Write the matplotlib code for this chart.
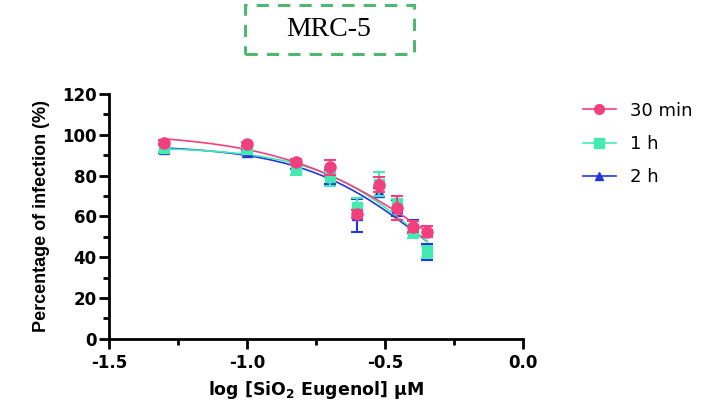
import numpy as np
import matplotlib
matplotlib.use("Agg")
import matplotlib.pyplot as plt
from matplotlib.patches import Rectangle
from matplotlib.ticker import MultipleLocator
from matplotlib.lines import Line2D

plt.rcParams['font.family'] = ['DejaVu Sans']
plt.rcParams['mathtext.fontset'] = 'custom'
plt.rcParams['mathtext.bf'] = 'DejaVu Sans:bold'
plt.rcParams['mathtext.rm'] = 'DejaVu Sans'

# log10 of concentrations (µM)
log_conc = [-1.301, -1.0, -0.824, -0.699, -0.602, -0.523, -0.456, -0.398, -0.347]

series_names = ["30 min", "1 h", "2 h"]
inf_30min = [96.2, 95.5, 86.6, 84.0, 61.0, 75.5, 64.2, 55.0, 52.5]
sd_30min = [1.2, 1.2, 1.5, 3.6, 2.0, 3.6, 6.0, 2.5, 2.8]
inf_1h = [93.4, 93.0, 83.4, 79.5, 64.4, 75.8, 65.6, 52.5, 42.7]
sd_1h = [2.0, 1.5, 3.0, 4.5, 4.6, 6.0, 3.0, 3.0, 3.0]
inf_2h = [93.0, 91.5, 85.0, 79.5, 60.5, 72.0, 64.0, 55.0, 42.5]
sd_2h = [2.0, 1.0, 1.5, 3.5, 8.2, 1.8, 4.0, 3.0, 3.8]

colors = ["#F2407F", "#43EBB2", "#2236DC"]
markers = ["o", "s", "^"]
msizes = [8.0, 7.5, 7.0]


def response(x, top, logic50, hill):
    return top / (1.0 + 10.0 ** ((x - logic50) * hill))


def fit_curve(x, y):
    # grid-search least squares for a top / IC50 / Hill slope model (bottom = 0)
    x = np.asarray(x)[:, None, None, None]
    y = np.asarray(y)[:, None, None, None]
    tops = np.arange(94, 112, 0.5)[None, :, None, None]
    cs = np.arange(-0.7, 0.1, 0.005)[None, None, :, None]
    hs = np.arange(0.3, 3.0, 0.02)[None, None, None, :]
    pred = response(x, tops, cs, hs)
    sse = ((pred - y) ** 2).sum(axis=0)
    i, j, k = np.unravel_index(np.argmin(sse), sse.shape)
    return tops[0, i, 0, 0], cs[0, 0, j, 0], hs[0, 0, 0, k]


fig = plt.figure(figsize=(7.23, 4.11), dpi=100)
ax = fig.add_axes([0.151, 0.176, 0.572, 0.595])

all_y = [inf_30min, inf_1h, inf_2h]
all_sd = [sd_30min, sd_1h, sd_2h]
xs = np.linspace(min(log_conc), max(log_conc), 200)

for idx in [2, 1, 0]:
    y = all_y[idx]
    top, c, h = fit_curve(log_conc, y)
    ax.plot(xs, response(xs, top, c, h), color=colors[idx], lw=1.2, zorder=2 + (2 - idx))
    ax.errorbar(log_conc, y, yerr=all_sd[idx], fmt=markers[idx], color=colors[idx],
                ms=msizes[idx], mec=colors[idx], capsize=4.5, elinewidth=1.5,
                capthick=1.5, zorder=3 + (2 - idx))

ax.set_xlim(-1.5, 0.0)
ax.set_ylim(0, 120)
ax.xaxis.set_major_locator(MultipleLocator(0.5))
ax.xaxis.set_minor_locator(MultipleLocator(0.25))
ax.yaxis.set_major_locator(MultipleLocator(20))
ax.yaxis.set_minor_locator(MultipleLocator(10))
ax.set_xticks([-1.5, -1.0, -0.5, 0.0])
ax.set_xticklabels(["-1.5", "-1.0", "-0.5", "0.0"])

for s in ["top", "right"]:
    ax.spines[s].set_visible(False)
for s in ["left", "bottom"]:
    ax.spines[s].set_linewidth(2.0)
ax.tick_params(which="major", direction="out", length=7, width=2.0,
               labelsize=12, pad=2)
ax.tick_params(axis="x", which="major", pad=4)
ax.tick_params(which="minor", direction="out", length=4, width=2.0)
for lbl in ax.get_xticklabels() + ax.get_yticklabels():
    lbl.set_fontweight("bold")

ax.set_ylabel("Percentage of infection (%)", fontsize=13, fontweight="bold",
              family="Liberation Sans", labelpad=9)
ax.set_xlabel(r"log [SiO$_\mathbf{2}$ Eugenol] µM", fontsize=12.5, fontweight="bold",
              labelpad=5)

handles = [Line2D([0], [0], color=colors[i], marker=markers[i], ms=msizes[i] - 1.0, lw=1.2)
           for i in range(3)]
fig.legend(handles, series_names, loc="upper left", bbox_to_anchor=(0.784, 0.792),
           frameon=False, fontsize=13, handlelength=1.8, labelspacing=0.85,
           handletextpad=0.8)

# dashed title box
box = Rectangle((245 / 723, 1 - 54 / 411), (414 - 245) / 723, 49 / 411,
                transform=fig.transFigure, fill=False, edgecolor="#4DB86E",
                lw=2.2, linestyle=(0, (4, 3)))
fig.add_artist(box)
fig.text(329 / 723, 1 - 30 / 411, "MRC-5", ha="center", va="center",
         fontsize=20, family="Liberation Serif")

fig.savefig("out.png", dpi=100)
